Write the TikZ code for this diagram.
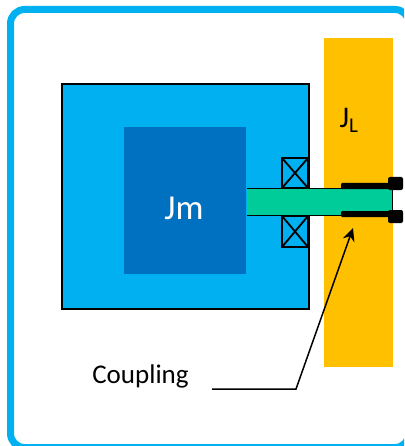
\documentclass[tikz,border=0pt]{standalone}
\usepackage{fontspec}
\setmainfont{Carlito}
\usepackage{tikz}
\usetikzlibrary{calc, arrows.meta, positioning}
\definecolor{frameBlue}{RGB}{0,176,240}
\definecolor{rotorBlue}{RGB}{0,112,192}
\definecolor{loadYellow}{RGB}{255,192,0}
\definecolor{shaftGreen}{RGB}{0,204,153}
\tikzset{
    box/.style={draw=black, line width=1.8pt},
    bearing/.style={box, fill=frameBlue},
    lug/.style={fill=black, rounded corners=2pt},
    lead/.style={draw=black, line width=1.5pt},
}

\begin{document}
\begin{tikzpicture}[x=1pt, y=-1pt, >={Stealth[length=13pt, width=12pt]}]
    \useasboundingbox (0,0) rectangle (404,446);
    \clip (0,0) rectangle (404,446);

    % Frame
    \draw[frameBlue, line width=7pt, rounded corners=14pt] (10.5,9.5) rectangle (409,447.5);

    % Load plate
    \fill[loadYellow] (324,38) rectangle (393,367);
    \node (load) at (349,120) {\fontsize{30}{30}\selectfont J\textsubscript{L}};

    % Motor
    \draw[box, fill=frameBlue] (62,84) rectangle (309,309);
    \fill[rotorBlue] (124,127) rectangle (246,274);
    \node[text=white] (rotor) at (184,208) {\fontsize{35}{35}\selectfont Jm};

    % Bearings
    \foreach \ya/\yb in {158/188, 216/247} {
        \draw[bearing] (282,\ya) rectangle (308,\yb);
        \draw[line width=1.8pt] (282,\ya) -- (308,\yb);
        \draw[line width=1.8pt] (282,\yb) -- (308,\ya);
    }

    % Shaft
    \fill[shaftGreen] (247,188.5) rectangle (392,215.5);
    \draw[line width=1.8pt] (247,188.5) -- (392,188.5);
    \draw[line width=1.8pt] (247,215.5) -- (392,215.5);
    \draw[line width=1pt] (392,188.5) -- (392,215.5);

    % Coupling
    \fill[rounded corners=1pt] (341,183) rectangle (393,189);
    \fill[rounded corners=1pt] (341,211) rectangle (393,217);
    \fill[lug] (388,177) rectangle (403,190);
    \fill[lug] (388,210) rectangle (403,223);

    % Label with leader
    \node (label) at (140.5,376.5) {\fontsize{27}{27}\selectfont Coupling};
    \coordinate (start) at (212,389);
    \coordinate (bend) at (296,389);
    \coordinate (tip) at (353,228);
    \draw[lead, ->] (start) -- (bend) -- (tip);
\end{tikzpicture}
\end{document}
